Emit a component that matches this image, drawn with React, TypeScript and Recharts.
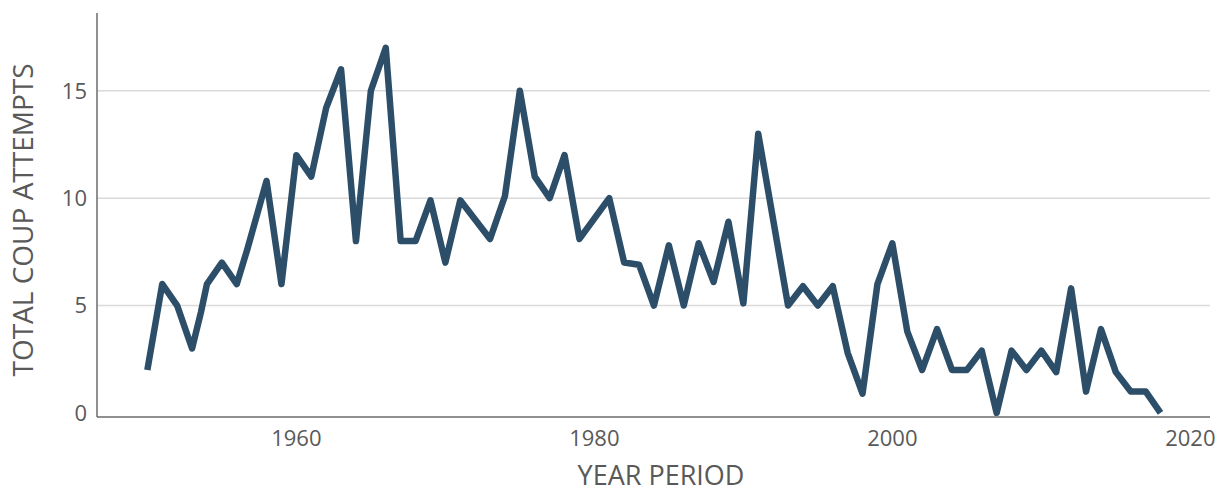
import { LineChart, Line, XAxis, YAxis, ReferenceLine } from 'recharts';

// vertices (some bends fall between whole years)
const years = [
  1950, 1951, 1952, 1953, 1953.6, 1954, 1955, 1956, 1956.7, 1958, 1959,
  1960, 1961, 1962, 1963, 1964, 1965, 1966, 1967, 1968, 1969,
  1970, 1971, 1973, 1974, 1975, 1976, 1977, 1978, 1979,
  1981, 1982, 1983, 1984, 1985, 1986, 1987, 1988, 1989,
  1990, 1991, 1993, 1994, 1995, 1996, 1997, 1998, 1999,
  2000, 2001, 2002, 2003, 2004, 2005, 2006, 2007, 2008, 2009,
  2010, 2011, 2012, 2013, 2014, 2015, 2016, 2017, 2018,
];
const attempts = [
  2, 6, 5, 3, 4.7, 6, 7, 6, 7.6, 10.8, 6,
  12, 11, 14.2, 16, 8, 15, 17, 8, 8, 9.9,
  7, 9.9, 8.1, 10.1, 15, 11, 10, 12, 8.1,
  10, 7, 6.9, 5, 7.8, 5, 7.9, 6.1, 8.9,
  5.1, 13, 5, 5.9, 5, 5.9, 2.8, 0.9, 6,
  7.9, 3.8, 2, 3.9, 2, 2, 2.9, 0, 2.9, 2,
  2.9, 1.9, 5.8, 1, 3.9, 1.9, 1, 1, 0,
];
const xTicks = [1960, 1980, 2000, 2020];
const yTicks = [0, 5, 10, 15];

const data = years.map((year, i) => ({ year, attempts: attempts[i] }));

const font = '"Open Sans", sans-serif';
const tickStyle = { fontSize: 22, fill: '#595959', fontFamily: font };

export default function App() {
  return (
    <div style={{ position: 'absolute', left: 0, top: 0, width: 1222, height: 494, background: '#fff' }}>
      <LineChart width={1222} height={494} data={data} margin={{ top: 13, right: 12, bottom: 0, left: 0 }}>
        {/* horizontal grid only at the non-zero ticks */}
        {yTicks.filter((t) => t > 0).map((t) => (
          <ReferenceLine key={t} y={t} stroke="#dadada" strokeWidth={1.5} />
        ))}
        <XAxis
          dataKey="year"
          type="number"
          domain={[1946.62, 2021.32]}
          ticks={xTicks}
          allowDataOverflow
          height={77}
          tickLine={false}
          tickSize={0}
          tickMargin={13}
          axisLine={{ stroke: '#6b6b6b', strokeWidth: 1.5 }}
          tick={tickStyle}
        />
        <YAxis
          type="number"
          domain={[-0.19, 18.62]}
          ticks={yTicks}
          allowDataOverflow
          width={97}
          tickLine={false}
          tickSize={0}
          tickMargin={10}
          axisLine={{ stroke: '#6b6b6b', strokeWidth: 1.5 }}
          tick={tickStyle}
        />
        <Line
          type="linear"
          dataKey="attempts"
          stroke="#2c4e69"
          strokeWidth={6.5}
          strokeLinejoin="round"
          dot={false}
          isAnimationActive={false}
        />
      </LineChart>
      <svg width={1222} height={494} style={{ position: 'absolute', left: 0, top: 0, pointerEvents: 'none' }}>
        <text
          x={33}
          y={220}
          transform="rotate(-90, 33, 220)"
          textAnchor="middle"
          fontSize={28}
          fill="#595959"
          fontFamily={font}
        >
          TOTAL COUP ATTEMPTS
        </text>
        <text x={661} y={485} textAnchor="middle" fontSize={27} fill="#595959" fontFamily={font}>
          YEAR PERIOD
        </text>
      </svg>
    </div>
  );
}
